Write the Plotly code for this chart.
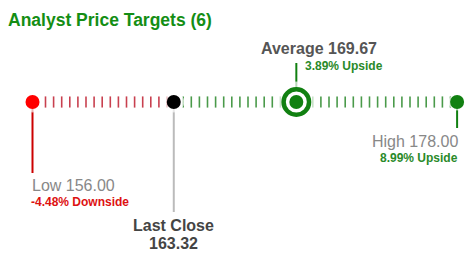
import numpy as np
import plotly.graph_objects as go

# ---- data ----
title = "Analyst Price Targets (6)"
low_price = 156.00
last_close = 163.32
avg_price = 169.67
high_price = 178.00
low_pct = "-4.48% Downside"
avg_pct = "3.89% Upside"
high_pct = "8.99% Upside"

W, H = 471, 268
PX_PER_UNIT = 19.3
X0 = low_price - 32.5 / PX_PER_UNIT
X1 = X0 + W / PX_PER_UNIT
LINE_Y = 102

GREEN = "#118011"
RED = "#ff0000"

fig = go.Figure()

# tick dashes along the track (decoration)
step = 8.1 / PX_PER_UNIT
dash_x = np.arange(low_price + 13 / PX_PER_UNIT, high_price - 6 / PX_PER_UNIT, step)
red_x = dash_x[dash_x < last_close]
grn_x = dash_x[dash_x >= last_close]
for xs, col in [(red_x, "#c8404f"), (grn_x, "#4a9a4a")]:
    fig.add_trace(go.Scatter(x=xs, y=[LINE_Y] * len(xs), mode="markers",
                             marker=dict(symbol="line-ns", size=8, line=dict(width=1.6, color=col)),
                             hoverinfo="skip", showlegend=False))

# stems
def stem(x, y0, y1, col, w=2):
    fig.add_trace(go.Scatter(x=[x, x], y=[y0, y1], mode="lines",
                             line=dict(color=col, width=w), hoverinfo="skip", showlegend=False))

stem(low_price, LINE_Y, 173, "#cc0000")
stem(last_close, LINE_Y, 212, "#bbbbbb")
stem(high_price, LINE_Y, 128, GREEN)
stem(avg_price, 63, LINE_Y, GREEN)

# white halos to clear dashes around dots
fig.add_trace(go.Scatter(x=[low_price, last_close, high_price, avg_price],
                         y=[LINE_Y] * 4, mode="markers",
                         marker=dict(size=[20, 20, 16, 40], color="white"),
                         hoverinfo="skip", showlegend=False))

# dots
fig.add_trace(go.Scatter(x=[low_price, last_close, high_price], y=[LINE_Y] * 3, mode="markers",
                         marker=dict(size=14, color=[RED, "#000000", GREEN]),
                         hoverinfo="skip", showlegend=False))
# average ring + inner dot
fig.add_trace(go.Scatter(x=[avg_price], y=[LINE_Y], mode="markers",
                         marker=dict(size=25.5, color="white", line=dict(width=4.5, color=GREEN)),
                         hoverinfo="skip", showlegend=False))
fig.add_trace(go.Scatter(x=[avg_price], y=[LINE_Y], mode="markers",
                         marker=dict(size=14, color=GREEN),
                         hoverinfo="skip", showlegend=False))

FONT = "Liberation Sans, Arial, sans-serif"

def ann(text, x, y, size, color, xanchor="center", bold=False, xshift=0):
    t = f"<b>{text}</b>" if bold else text
    fig.add_annotation(text=t, x=x, y=y, xref="x", yref="y", showarrow=False,
                       xanchor=xanchor, yanchor="middle", xshift=xshift,
                       font=dict(family=FONT, size=size, color=color))

# title
fig.add_annotation(text=f"<b>{title}</b>", x=6 / W, y=20, xref="paper", yref="y",
                   showarrow=False, xanchor="left", yanchor="middle",
                   font=dict(family=FONT, size=17.5, color="#148e14"))

ann(f"Average {avg_price:.2f}", avg_price, 48, 16, "#555555", bold=True, xshift=23)
ann(avg_pct, avg_price, 66, 12, "#2a8a2a", xanchor="left", bold=True, xshift=7)

ann(f"Low {low_price:.2f}", low_price, 185, 16, "#888888", xanchor="left", xshift=-3)
ann(low_pct, low_price, 202, 12, "#dd1111", xanchor="left", bold=True, xshift=-4)

ann("Last Close", last_close, 225, 16, "#444444", bold=True)
ann(f"{last_close:.2f}", last_close, 243, 16, "#444444", bold=True)

ann(f"High {high_price:.2f}", high_price, 141, 16, "#888888", xanchor="right", xshift=3)
ann(high_pct, high_price, 158, 12, "#2a8a2a", xanchor="right", bold=True, xshift=3)

fig.update_layout(
    width=W, height=H, autosize=False,
    margin=dict(l=0, r=0, t=0, b=0),
    paper_bgcolor="white", plot_bgcolor="white",
    xaxis=dict(range=[X0, X1], visible=False, fixedrange=True),
    yaxis=dict(range=[H, 0], visible=False, fixedrange=True),
    showlegend=False,
)

fig.write_html("out.html", config={"displayModeBar": False})
